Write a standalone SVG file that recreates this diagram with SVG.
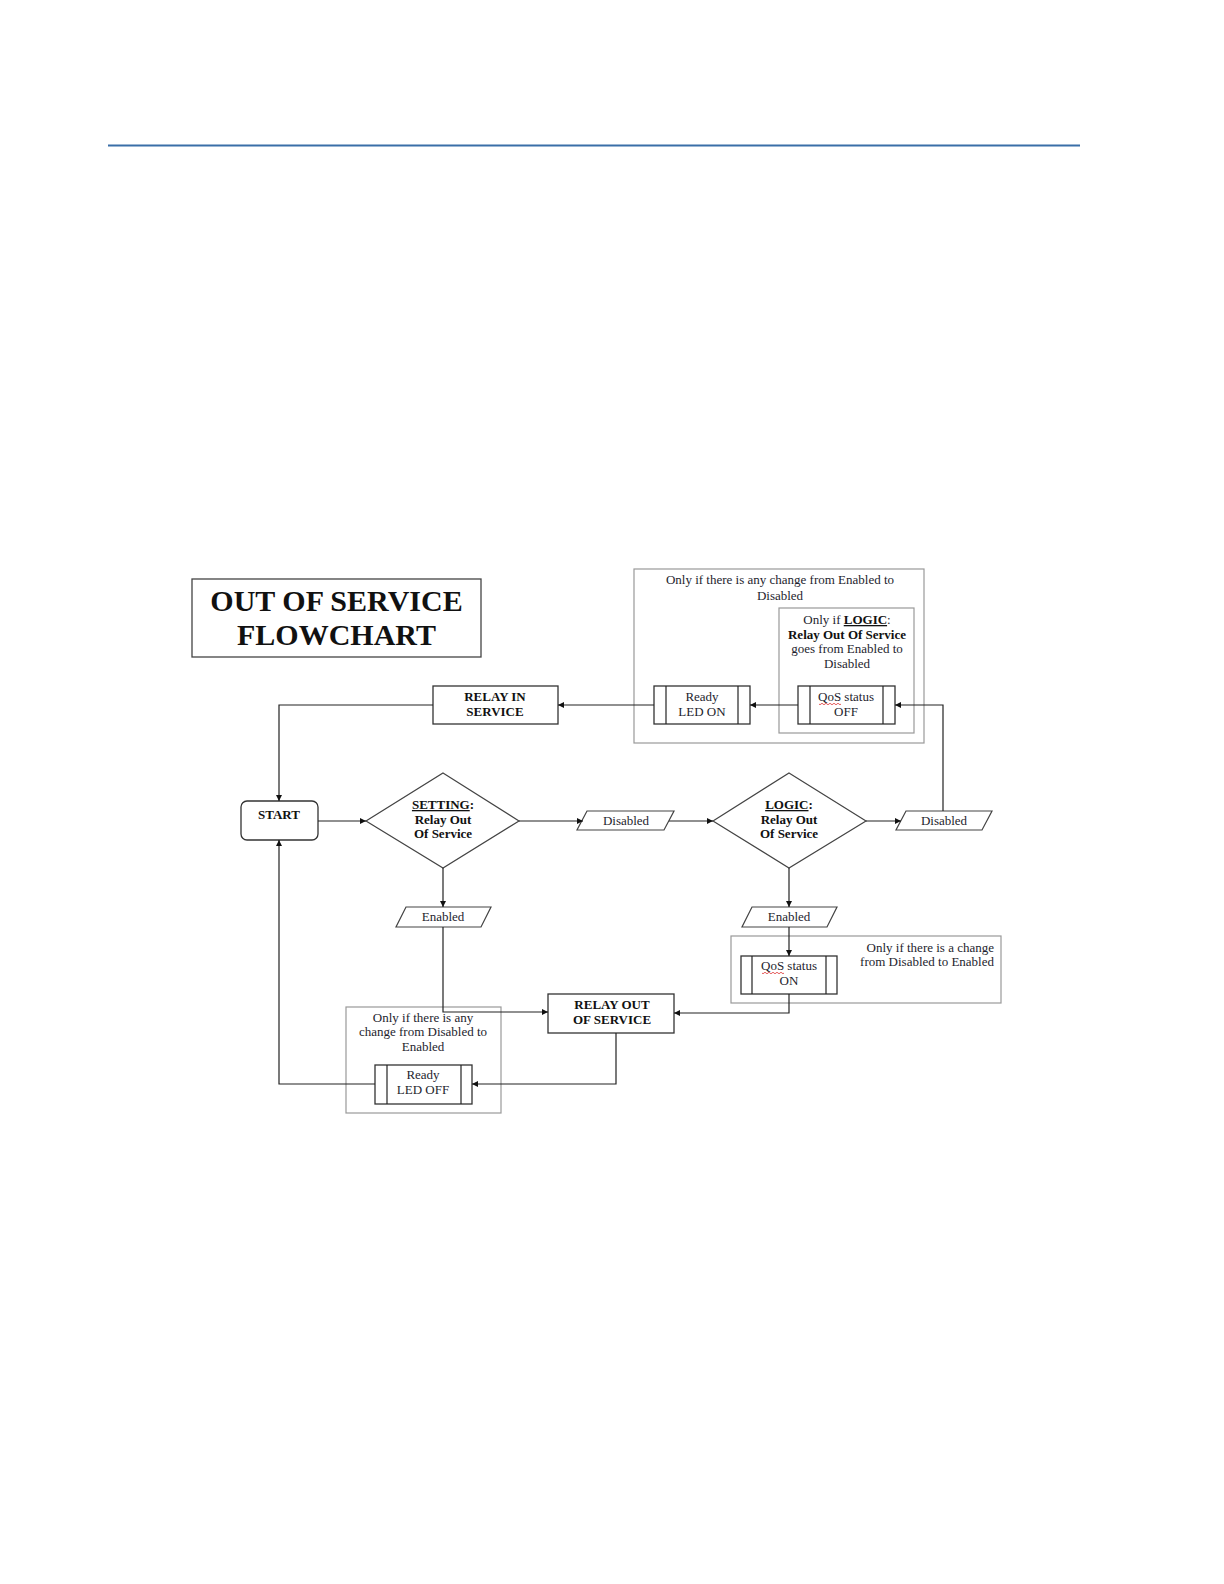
<svg xmlns="http://www.w3.org/2000/svg" width="1224" height="1584" viewBox="0 0 1224 1584">
<defs>
<marker id="ah" viewBox="0 0 10 10" refX="10" refY="5" markerWidth="7" markerHeight="6" orient="auto" markerUnits="userSpaceOnUse">
<path d="M0,0 L10,5 L0,10 z" fill="#111"/>
</marker>
<style>
text{font-family:"Liberation Serif","Times New Roman",serif;fill:#1e1e2e;}
.t{font-size:13px;text-anchor:middle;}
.b{font-size:13px;text-anchor:middle;font-weight:bold;fill:#111;}
.box{fill:#fff;stroke:#333;stroke-width:1.3;}
.grey{fill:none;stroke:#999;stroke-width:1.2;}
.ln{fill:none;stroke:#222;stroke-width:1.2;}
.con{fill:none;stroke:#222;stroke-width:1.2;marker-end:url(#ah);}
.sq{fill:none;stroke:#d33;stroke-width:0.8;}
</style>
</defs>
<rect width="1224" height="1584" fill="#fff"/>
<line x1="108" y1="145.5" x2="1080" y2="145.5" stroke="#3a6fa8" stroke-width="2"/>

<g id="title">
<rect x="192" y="579" width="289" height="78" fill="#fff" stroke="#444" stroke-width="1.3"/>
<text x="336.5" y="611" style="font-size:30px;font-weight:bold;text-anchor:middle;fill:#111">OUT OF SERVICE</text>
<text x="336.5" y="645" style="font-size:30px;font-weight:bold;text-anchor:middle;fill:#111">FLOWCHART</text>
</g>

<g id="cond-top">
<rect class="grey" x="634" y="569" width="290" height="174"/>
<text class="t" x="780" y="584">Only if there is any change from Enabled to</text>
<text class="t" x="780" y="600">Disabled</text>
</g>
<g id="cond-logic">
<rect class="grey" x="779" y="608" width="135" height="125"/>
<text class="t" x="847" y="624">Only if <tspan font-weight="bold" text-decoration="underline" fill="#111">LOGIC</tspan>:</text>
<text class="b" x="847" y="639">Relay Out Of Service</text>
<text class="t" x="847" y="653">goes from Enabled to</text>
<text class="t" x="847" y="668">Disabled</text>
</g>

<g id="ready-led-on">
<rect class="box" x="654" y="686" width="96" height="38"/>
<line class="ln" x1="666" y1="686" x2="666" y2="724"/>
<line class="ln" x1="738" y1="686" x2="738" y2="724"/>
<text class="t" x="702" y="701">Ready</text>
<text class="t" x="702" y="716">LED ON</text>
</g>

<g id="qos-off">
<rect class="box" x="798" y="686" width="97" height="38"/>
<line class="ln" x1="810" y1="686" x2="810" y2="724"/>
<line class="ln" x1="883" y1="686" x2="883" y2="724"/>
<text class="t" x="846" y="701">QoS status</text>
<text class="t" x="846" y="716">OFF</text>
<path class="sq" d="M819,704 q1,1.5 2,0 t2,0 t2,0 t2,0 t2,0 t2,0 t2,0 t2,0 t2,0 t2,0 t2,0"/>
</g>

<g id="relay-in-service">
<rect class="box" x="433" y="686" width="125" height="38"/>
<text class="b" x="495" y="701">RELAY IN</text>
<text class="b" x="495" y="716">SERVICE</text>
</g>

<g id="start">
<rect class="box" x="241" y="801" width="77" height="39" rx="6" ry="6"/>
<text class="b" x="279" y="819">START</text>
</g>

<g id="setting">
<polygon points="443,773 519,821 443,868 366,821" fill="#fff" stroke="#444" stroke-width="1.2"/>
<text class="b" x="443" y="809"><tspan text-decoration="underline">SETTING</tspan>:</text>
<text class="b" x="443" y="824">Relay Out</text>
<text class="b" x="443" y="838">Of Service</text>
</g>

<g id="disabled1">
<polygon points="587,811 674,811 664,830 577,830" fill="#fff" stroke="#444" stroke-width="1.2"/>
<text class="t" x="626" y="825">Disabled</text>
</g>

<g id="logic">
<polygon points="789,773 866,821 789,868 713,821" fill="#fff" stroke="#444" stroke-width="1.2"/>
<text class="b" x="789" y="809"><tspan text-decoration="underline">LOGIC</tspan>:</text>
<text class="b" x="789" y="824">Relay Out</text>
<text class="b" x="789" y="838">Of Service</text>
</g>

<g id="disabled2">
<polygon points="906,811 992,811 982,830 896,830" fill="#fff" stroke="#444" stroke-width="1.2"/>
<text class="t" x="944" y="825">Disabled</text>
</g>

<g id="enabled1">
<polygon points="406,907 491,907 481,927 396,927" fill="#fff" stroke="#444" stroke-width="1.2"/>
<text class="t" x="443" y="921">Enabled</text>
</g>

<g id="enabled2">
<polygon points="752,907 837,907 827,927 742,927" fill="#fff" stroke="#444" stroke-width="1.2"/>
<text class="t" x="789" y="921">Enabled</text>
</g>

<g id="cond-on">
<rect class="grey" x="731" y="936" width="270" height="67"/>
<text x="994" y="952" style="font-size:13px;text-anchor:end">Only if there is a change</text>
<text x="994" y="966" style="font-size:13px;text-anchor:end">from Disabled to Enabled</text>
</g>

<g id="qos-on">
<rect class="box" x="741" y="956" width="96" height="38"/>
<line class="ln" x1="752" y1="956" x2="752" y2="994"/>
<line class="ln" x1="826" y1="956" x2="826" y2="994"/>
<text class="t" x="789" y="970">QoS status</text>
<text class="t" x="789" y="985">ON</text>
<path class="sq" d="M762,973 q1,1.5 2,0 t2,0 t2,0 t2,0 t2,0 t2,0 t2,0 t2,0 t2,0 t2,0 t2,0"/>
</g>

<g id="relay-out-of-service">
<rect class="box" x="548" y="994" width="126" height="39"/>
<text class="b" x="612" y="1009">RELAY OUT</text>
<text class="b" x="612" y="1024">OF SERVICE</text>
</g>

<g id="cond-off">
<rect class="grey" x="346" y="1007" width="155" height="106"/>
<text class="t" x="423" y="1022">Only if there is any</text>
<text class="t" x="423" y="1036">change from Disabled to</text>
<text class="t" x="423" y="1051">Enabled</text>
</g>

<g id="ready-led-off">
<rect class="box" x="375" y="1065" width="97" height="39"/>
<line class="ln" x1="387" y1="1065" x2="387" y2="1104"/>
<line class="ln" x1="461" y1="1065" x2="461" y2="1104"/>
<text class="t" x="423" y="1079">Ready</text>
<text class="t" x="423" y="1094">LED OFF</text>
</g>

<g id="connectors">
<path class="con" d="M798,705 L750,705"/>
<path class="con" d="M654,705 L558,705"/>
<path class="con" d="M433,705 L279,705 L279,801"/>
<path class="con" d="M318,821 L366,821"/>
<path class="con" d="M519,821 L583,821"/>
<path class="con" d="M669,821 L713,821"/>
<path class="con" d="M866,821 L901,821"/>
<path class="con" d="M943,811 L943,705 L895,705"/>
<path class="con" d="M443,868 L443,907"/>
<path class="con" d="M443,927 L443,1012 L548,1012"/>
<path class="con" d="M789,868 L789,907"/>
<path class="con" d="M789,927 L789,956"/>
<path class="con" d="M789,994 L789,1013 L674,1013"/>
<path class="con" d="M616,1033 L616,1084 L472,1084"/>
<path class="con" d="M375,1084 L279,1084 L279,840"/>
</g>
</svg>
